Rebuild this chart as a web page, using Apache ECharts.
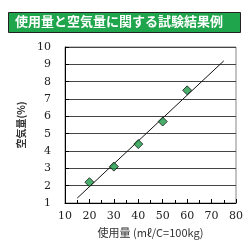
<!DOCTYPE html>
<html><head><meta charset="utf-8">
<script src="https://cdn.jsdelivr.net/npm/echarts@6/dist/echarts.min.js"></script>
<style>html,body{margin:0;padding:0;background:#fff}#c{width:246px;height:247px}</style>
</head><body><div id="c"></div>
<script>
const titleText = '使用量と空気量に関する試験結果例';
const xTitle = '使用量 (mℓ/C=100kg)';
const yTitle = '空気量(%)';
const usage = [20, 30, 40, 50, 60];
const air = [2.2, 3.1, 4.4, 5.7, 7.5];
const trendX = [15, 75];
const trendY = [1.28, 9.2];

const chart = echarts.init(document.getElementById('c'));
const serif = '"DejaVu Serif","Liberation Serif",serif';
chart.setOption({
  animation: false,
  graphic: [
    {type:'rect', shape:{x:8.5,y:12.5,width:232,height:20}, style:{fill:'#1fa54b', stroke:'#222', lineWidth:1}},
    {type:'text', left:15, top:15, style:{text:titleText, fill:'#fff', font:'bold 13px "Noto Sans CJK JP"'}}
  ],
  grid: {left:65, right:9, top:47, bottom:44, show:true, borderColor:'#888', borderWidth:1},
  xAxis: {
    type:'value', min:10, max:80, interval:10,
    name: xTitle, nameLocation:'middle', nameGap:24,
    nameTextStyle:{color:'#333', fontSize:11, fontFamily:'"Noto Sans CJK JP"'},
    axisLine:{show:true, lineStyle:{color:'#000'}},
    axisTick:{show:true, inside:true, length:4, lineStyle:{color:'#000'}},
    minorTick:{show:true, splitNumber:2, length:3, lineStyle:{color:'#000'}},
    splitLine:{show:false},
    axisLabel:{color:'#222', fontSize:11, fontFamily:serif, margin:8}
  },
  yAxis: {
    type:'value', min:1, max:10, interval:1,
    name: yTitle, nameLocation:'middle', nameGap:28, nameRotate:90,
    nameTextStyle:{color:'#333', fontSize:10, fontWeight:'bold', fontFamily:'"Noto Sans CJK JP"'},
    axisLine:{show:true, lineStyle:{color:'#000'}},
    axisTick:{show:true, inside:true, length:4, lineStyle:{color:'#000'}},
    splitLine:{show:true, lineStyle:{color:'#444', width:1}},
    axisLabel:{color:'#222', fontSize:11, fontFamily:serif, margin:14}
  },
  series: [
    {type:'line', data: trendX.map((x,i)=>[x, trendY[i]]), showSymbol:false, symbol:'none',
     lineStyle:{color:'#111', width:1}, z:2},
    {type:'scatter', data: usage.map((x,i)=>[x, air[i]]), symbol:'diamond', symbolSize:9,
     itemStyle:{color:'#1a9a45', borderColor:'#111', borderWidth:1}, z:3}
  ]
});
</script></body></html>
